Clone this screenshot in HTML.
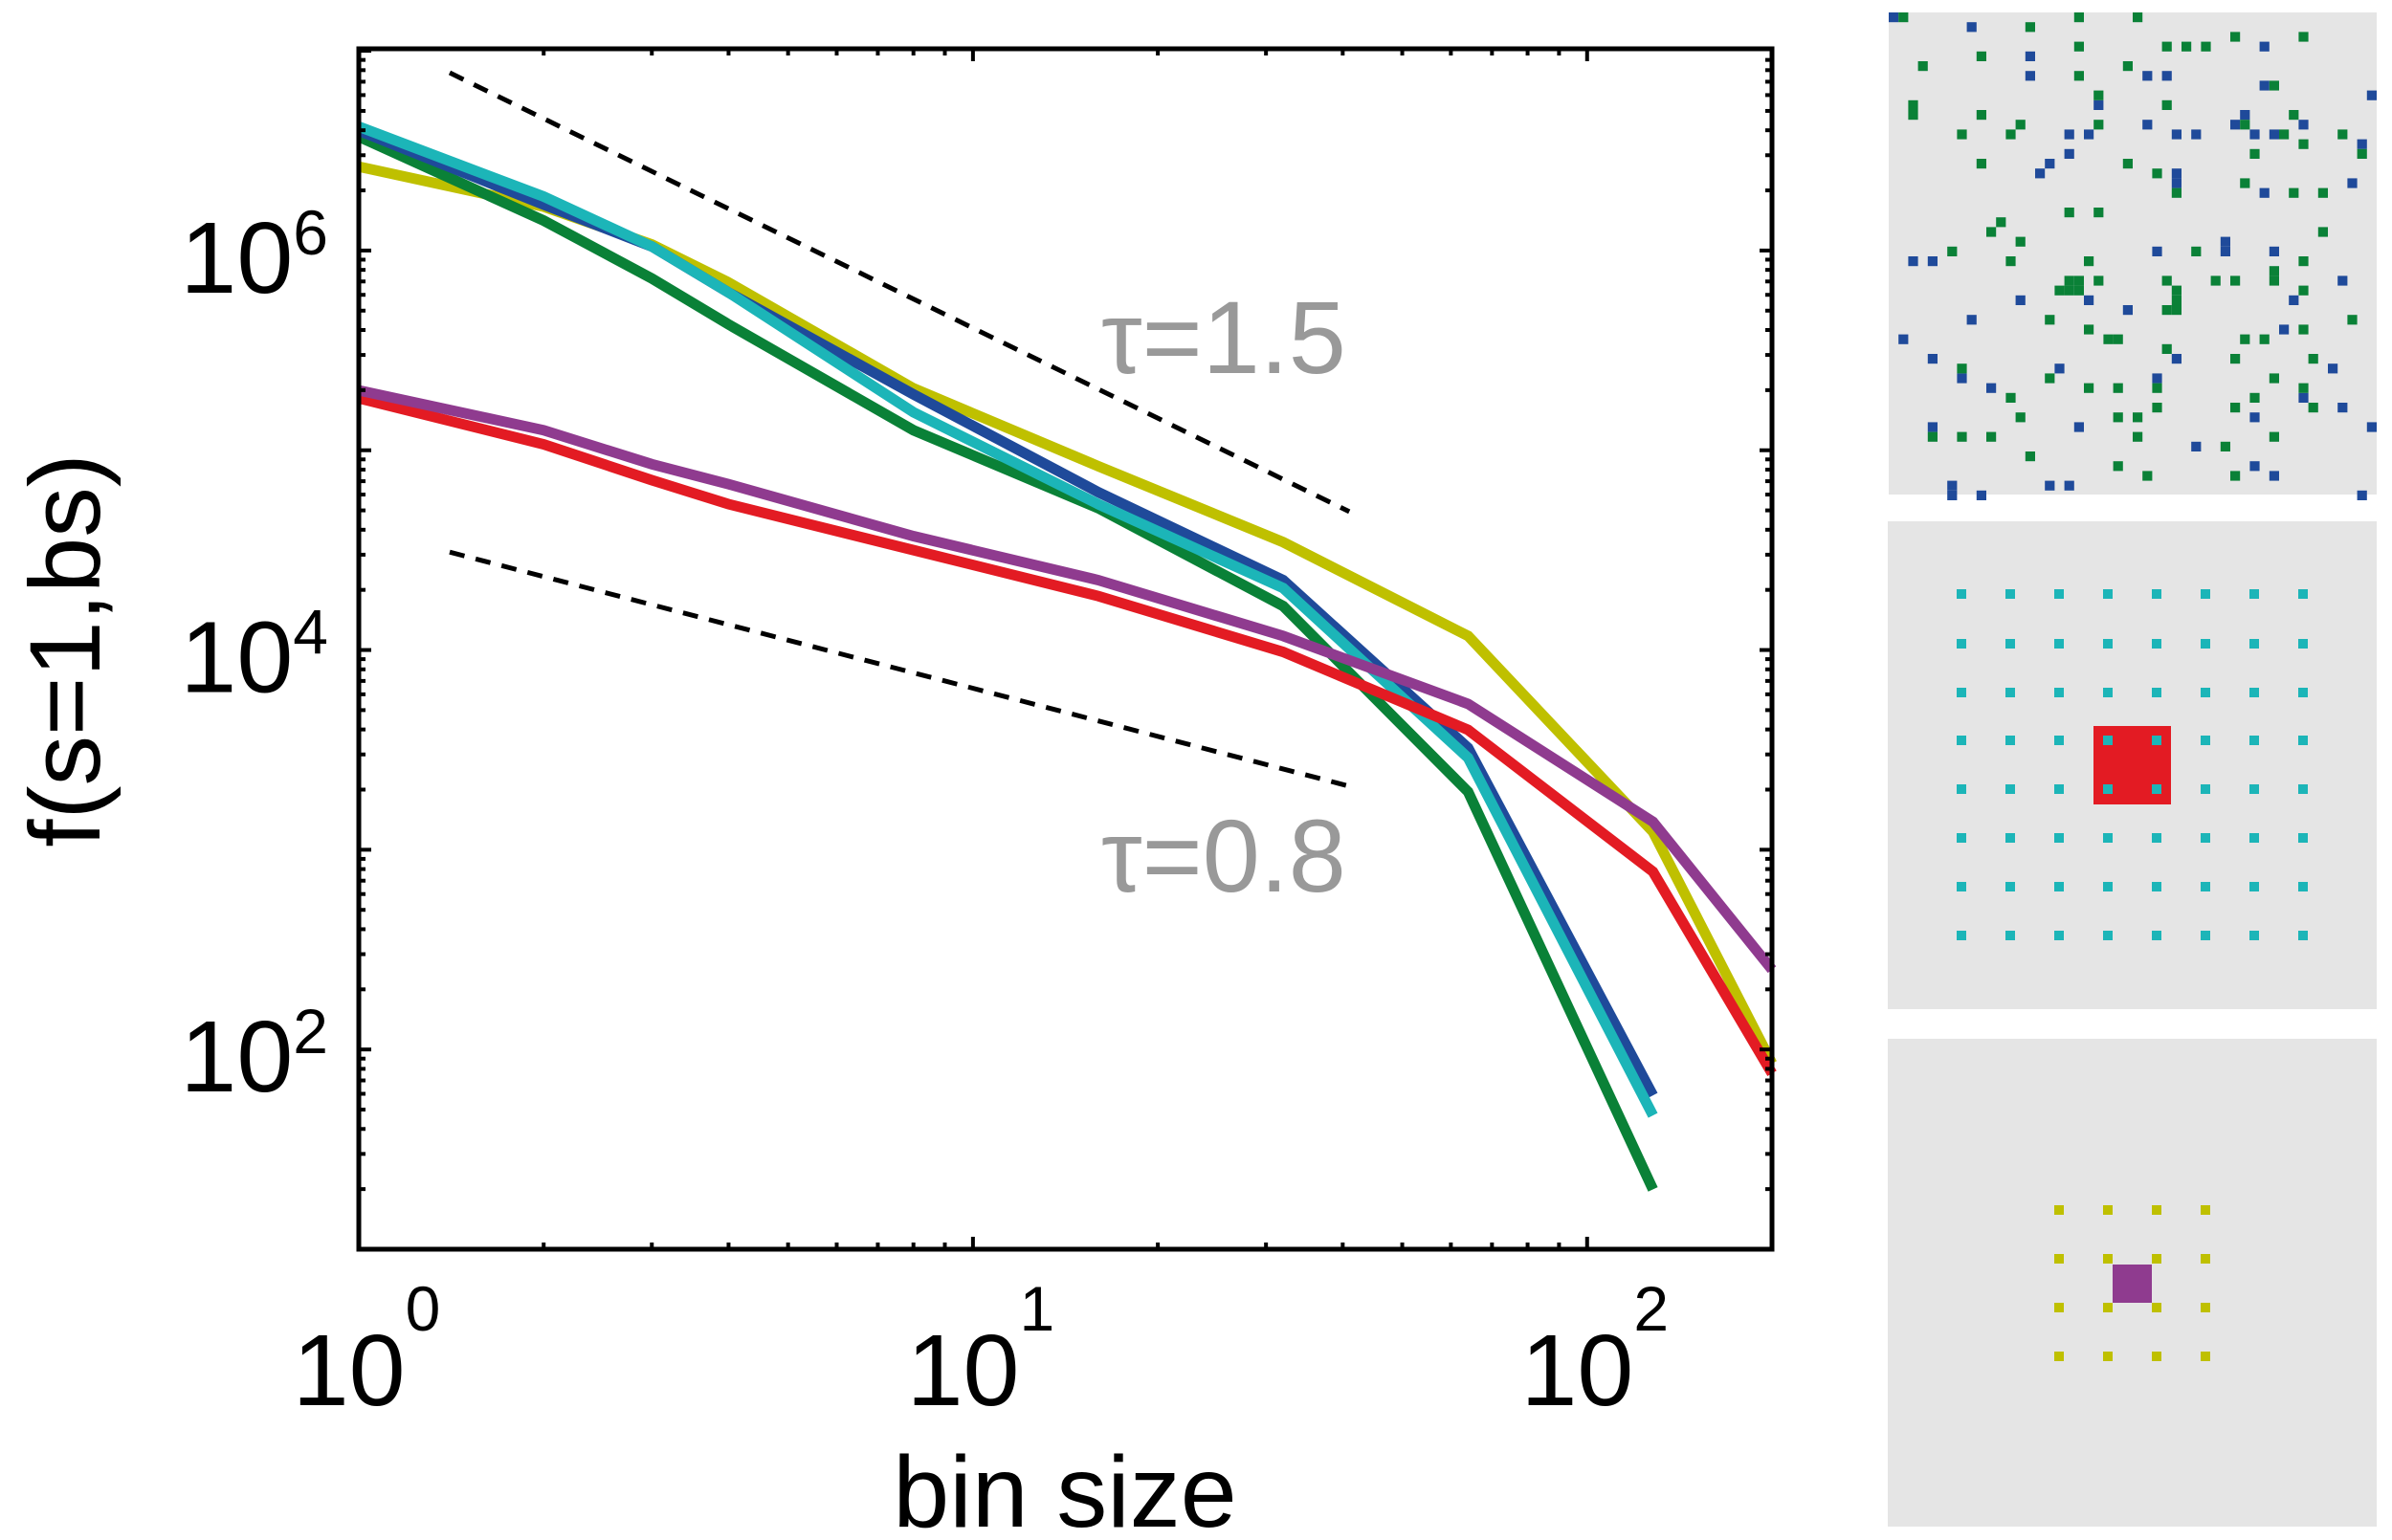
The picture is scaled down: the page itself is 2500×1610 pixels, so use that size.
<!DOCTYPE html>
<html><head><meta charset="utf-8"><style>
html,body{margin:0;padding:0;background:#fff}
svg{display:block}
text{font-family:"Liberation Sans",Arial,sans-serif}
</style></head><body>
<svg id="chart" width="2500" height="1610" viewBox="0 0 2500 1610" xmlns="http://www.w3.org/2000/svg">
<g id="plot"></g>
<g id="panels"></g>
</svg>
<script>
// ---- chart data ----
const xsMain = [1, 2, 3, 4, 8, 16, 32, 64, 128];
const xsLong = [1, 2, 3, 4, 8, 16, 32, 64, 128, 200];
const logBlue   = [6.60, 6.23, 6.02, 5.79, 5.28, 4.79, 4.35, 3.51, 1.77];
const logCyan   = [6.62, 6.27, 6.02, 5.79, 5.19, 4.73, 4.31, 3.46, 1.67];
const logGreen  = [6.57, 6.15, 5.86, 5.63, 5.10, 4.71, 4.22, 3.29, 1.30];
const logYellow = [6.42, 6.22, 6.03, 5.84, 5.31, 4.92, 4.54, 4.07, 3.09, 1.93];
const logPurple = [5.30, 5.10, 4.93, 4.83, 4.57, 4.35, 4.07, 3.73, 3.14, 2.40];
const logRed    = [5.26, 5.03, 4.85, 4.73, 4.50, 4.27, 3.99, 3.60, 2.89, 1.88];
const xTickExp = [0, 1, 2];
const yTickExp = [2, 4, 6];
const refTau = [1.5, 0.8];
const refX = [1.406, 41];
const refStartLog = [6.89, 4.49];

// ---- axes ----
const L = 375, R = 1852, T = 51, B = 1306;
const XMIN = 0, XMAX = Math.log10(200), YMIN = 1, YMAX = 7.01;
const sx = v => L + (Math.log10(v) - XMIN) / (XMAX - XMIN) * (R - L);
const sy = lg => B - (lg - YMIN) / (YMAX - YMIN) * (B - T);
const NS = "http://www.w3.org/2000/svg";
const plot = document.getElementById('plot');
function mk(tag, attrs, parent) {
  const e = document.createElementNS(NS, tag);
  for (const k in attrs) e.setAttribute(k, attrs[k]);
  (parent || plot).appendChild(e);
  return e;
}

// series
const series = [
  ['series-yellow', xsLong, logYellow, '#bfc000'],
  ['series-green', xsMain, logGreen, '#0a8137'],
  ['series-blue', xsMain, logBlue, '#1f4a9a'],
  ['series-cyan', xsMain, logCyan, '#1cb5b8'],
  ['series-red', xsLong, logRed, '#e31b23'],
  ['series-purple', xsLong, logPurple, '#8f3b8f']
];
series.forEach(([name, xs, ys, col]) => {
  const pts = xs.map((x, i) => sx(x).toFixed(1) + ',' + sy(ys[i]).toFixed(1)).join(' ');
  const pl = mk('polyline', {points: pts, fill: 'none', stroke: col, 'stroke-width': 11, 'stroke-linejoin': 'miter'});
  
  
});

// reference dashed lines
refTau.forEach((tau, i) => {
  const y0 = refStartLog[i];
  const y1 = y0 - tau * (Math.log10(refX[1]) - Math.log10(refX[0]));
  const ln = mk('line', {x1: sx(refX[0]), y1: sy(y0), x2: sx(refX[1]), y2: sy(y1), stroke: '#000', 'stroke-width': 5, 'stroke-dasharray': '16 12'});
  
  
  const t = mk('text', {x: 1151, y: i === 0 ? 390 : 932, 'font-size': 108, fill: '#999'});
  t.textContent = 'τ=' + tau.toFixed(1);
  
  
});

// frame
const fr = mk('rect', {x: L, y: T, width: R - L, height: B - T, fill: 'none', stroke: '#000', 'stroke-width': 5});



// x ticks
for (let d = 0; d <= 2; d++) {
  for (let m = 1; m <= 9; m++) {
    const v = m * Math.pow(10, d);
    if (v > 200) break;
    const x = sx(v), len = m === 1 ? 13 : 7;
    mk('line', {x1: x, y1: B, x2: x, y2: B - len, stroke: '#000', 'stroke-width': 4});
    mk('line', {x1: x, y1: T, x2: x, y2: T + len, stroke: '#000', 'stroke-width': 4});
  }
}
// y ticks
for (let d = 1; d <= 6; d++) {
  for (let m = 1; m <= 9; m++) {
    const lg = d + Math.log10(m);
    const y = sy(lg), len = m === 1 ? 13 : 7;
    mk('line', {x1: L, y1: y, x2: L + len, y2: y, stroke: '#000', 'stroke-width': 4});
    mk('line', {x1: R, y1: y, x2: R - len, y2: y, stroke: '#000', 'stroke-width': 4});
  }
}
mk('line', {x1: L, y1: sy(7), x2: L + 13, y2: sy(7), stroke: '#000', 'stroke-width': 4});

// tick labels
xTickExp.forEach(e => {
  const t = mk('text', {x: sx(Math.pow(10, e)) + 8, y: 1469, 'font-size': 106, 'text-anchor': 'middle', fill: '#000'});
  
  
  t.appendChild(document.createTextNode('10'));
  const s = document.createElementNS(NS, 'tspan');
  s.setAttribute('dy', -78); s.setAttribute('font-size', 66);
  s.textContent = e; t.appendChild(s);
});
yTickExp.forEach(e => {
  const t = mk('text', {x: 343, y: sy(e) + 44, 'font-size': 106, 'text-anchor': 'end', fill: '#000'});
  
  
  t.appendChild(document.createTextNode('10'));
  const s = document.createElementNS(NS, 'tspan');
  s.setAttribute('dy', -40); s.setAttribute('font-size', 66);
  s.textContent = e; t.appendChild(s);
});
const xt = mk('text', {x: 1113, y: 1596, 'font-size': 106, 'text-anchor': 'middle', fill: '#000'});
xt.textContent = 'bin size';


const yt = mk('text', {x: 0, y: 0, 'font-size': 105, 'text-anchor': 'middle', fill: '#000', transform: 'translate(104,680) rotate(-90)'});
yt.textContent = 'f(s=1,bs)';



// ---- right panels ----
const panels = document.getElementById('panels');
const p1 = mk('rect', {x: 1974, y: 13, width: 510, height: 504, fill: '#e5e5e5'}, panels);


const p2 = mk('rect', {x: 1973, y: 545, width: 511, height: 510, fill: '#e5e5e5'}, panels);


const p3 = mk('rect', {x: 1973, y: 1086, width: 511, height: 510, fill: '#e5e5e5'}, panels);



const blueCells = [[0,0],[8,1],[38,3],[14,4],[14,6],[26,6],[28,6],[38,7],[49,8],[21,9],[36,10],[26,11],[35,11],[42,11],[18,12],[20,12],[29,12],[31,12],[37,12],[39,12],[48,13],[18,14],[16,15],[15,16],[29,16],[29,17],[47,17],[38,18],[34,23],[27,24],[34,24],[39,24],[2,25],[4,25],[46,27],[13,29],[20,29],[41,29],[24,30],[8,31],[40,32],[1,33],[4,35],[29,35],[17,36],[45,36],[7,37],[27,37],[10,38],[42,39],[46,40],[37,41],[4,42],[19,42],[49,42],[31,44],[37,46],[39,47],[6,48],[16,48],[18,48],[6,49],[9,49],[48,49]];
const greenCells = [[1,0],[19,0],[25,0],[14,1],[35,2],[42,2],[19,3],[28,3],[30,3],[32,3],[9,4],[3,5],[24,5],[19,6],[39,7],[21,8],[2,9],[28,9],[2,10],[9,10],[41,10],[13,11],[21,11],[36,11],[7,12],[12,12],[40,12],[46,12],[42,13],[37,14],[48,14],[9,15],[24,15],[27,16],[36,17],[29,18],[41,18],[44,18],[18,20],[21,20],[11,21],[10,22],[44,22],[13,23],[6,24],[31,24],[12,25],[20,25],[42,25],[39,26],[18,27],[19,27],[21,27],[28,27],[33,27],[35,27],[39,27],[17,28],[18,28],[19,28],[29,28],[42,28],[29,29],[28,30],[29,30],[16,31],[47,31],[20,32],[42,32],[22,33],[23,33],[36,33],[38,33],[28,34],[35,35],[43,35],[7,36],[16,37],[39,37],[20,38],[23,38],[27,38],[42,38],[12,39],[37,39],[27,40],[35,40],[43,40],[13,41],[23,41],[25,41],[4,43],[7,43],[10,43],[25,43],[39,43],[34,44],[14,45],[23,46],[26,47],[35,47]];
const CELL = 10.2;
blueCells.forEach(([c, r]) => {
  const e = mk('rect', {x: 1974 + c * CELL, y: 13 + r * CELL, width: CELL, height: CELL, fill: '#1f4a9a'}, panels);
  
  
});
greenCells.forEach(([c, r]) => {
  const e = mk('rect', {x: 1974 + c * CELL, y: 13 + r * CELL, width: CELL, height: CELL, fill: '#0a8137'}, panels);
  
  
});

const red = mk('rect', {x: 2188, y: 759, width: 81, height: 82, fill: '#e31b23'}, panels);


const gridX = [2050, 2101, 2152, 2203, 2254, 2305, 2356, 2407];
const gridY = [621, 673, 724, 774, 825, 876, 927, 978];
gridY.forEach(y => gridX.forEach(x => {
  const e = mk('rect', {x: x - 5, y: y - 5, width: 10, height: 10, fill: '#1cb5b8'}, panels);
  
  
}));
const smallX = [2152, 2203, 2254, 2305];
const smallY = [1265, 1316, 1367, 1418];
smallY.forEach(y => smallX.forEach(x => {
  const e = mk('rect', {x: x - 5, y: y - 5, width: 10, height: 10, fill: '#bfc000'}, panels);
  
  
}));
const pur = mk('rect', {x: 2208, y: 1322, width: 41, height: 40, fill: '#8f3b8f'}, panels);


</script>
</body></html>
